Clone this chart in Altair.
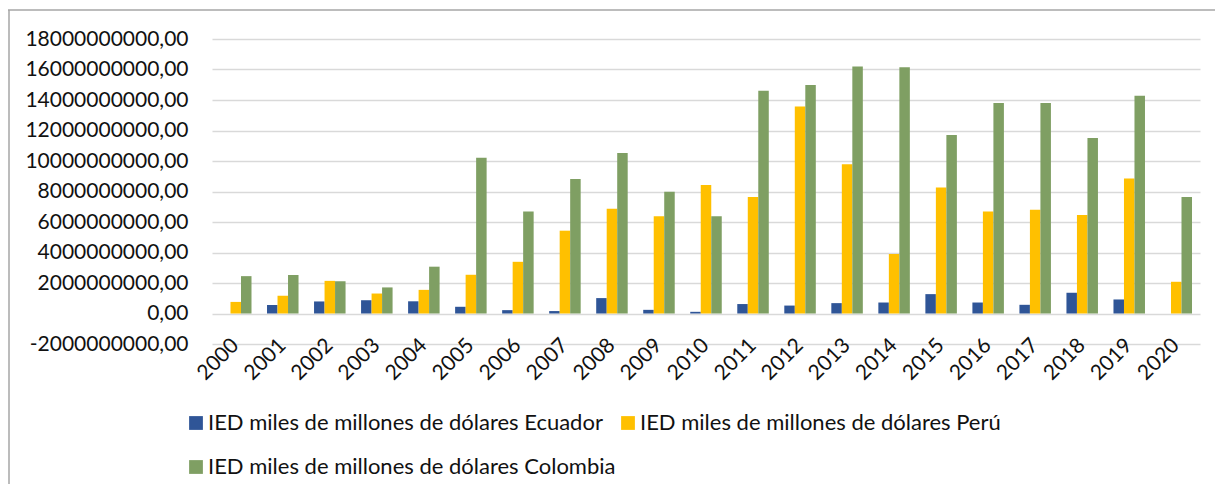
import altair as alt
import pandas as pd

years = [str(y) for y in range(2000, 2021)]
series = [
    "IED miles de millones de dólares Ecuador",
    "IED miles de millones de dólares Perú",
    "IED miles de millones de dólares Colombia",
]
colors = ["#2F5597", "#FFC000", "#7F9F63"]

ecuador = [0.00e9, 0.56e9, 0.79e9, 0.87e9, 0.80e9, 0.44e9, 0.22e9, 0.16e9, 1.01e9, 0.24e9, 0.11e9,
           0.62e9, 0.52e9, 0.68e9, 0.72e9, 1.27e9, 0.72e9, 0.57e9, 1.36e9, 0.92e9, 0.00e9]
peru = [0.76e9, 1.16e9, 2.14e9, 1.31e9, 1.55e9, 2.54e9, 3.39e9, 5.43e9, 6.87e9, 6.37e9, 8.42e9,
        7.64e9, 13.58e9, 9.78e9, 3.90e9, 8.27e9, 6.69e9, 6.80e9, 6.46e9, 8.86e9, 2.08e9]
colombia = [2.45e9, 2.53e9, 2.12e9, 1.71e9, 3.07e9, 10.22e9, 6.69e9, 8.82e9, 10.52e9, 7.99e9, 6.37e9,
            14.61e9, 14.99e9, 16.19e9, 16.14e9, 11.71e9, 13.80e9, 13.80e9, 11.51e9, 14.28e9, 7.64e9]

y_ticks = [-2e9 + 2e9 * i for i in range(11)]

rows = []
for name, vals in zip(series, [ecuador, peru, colombia]):
    for yr, v in zip(years, vals):
        rows.append({"year": yr, "serie": name, "valor": v})
df = pd.DataFrame(rows)

FONT = "Lato"
TXT = "#111111"

bars = alt.Chart(df).mark_bar().encode(
    x=alt.X(
        "year:N", sort=years,
        scale=alt.Scale(paddingInner=0.33, paddingOuter=0.17),
        axis=alt.Axis(title=None, labelAngle=-45, labelAlign="right", labelBaseline="middle",
                      domain=False, ticks=False, labelPadding=-2, labelFontSize=21,
                      labelFont=FONT, labelColor=TXT, grid=False),
    ),
    xOffset=alt.XOffset("serie:N", sort=series, scale=alt.Scale(paddingInner=0, paddingOuter=0)),
    y=alt.Y(
        "valor:Q",
        scale=alt.Scale(domain=[-2e9, 18e9], nice=False, zero=False),
        axis=alt.Axis(values=y_ticks, title=None, domain=False, ticks=False,
                      labelExpr="(datum.value < 0 ? '-' : '') + replace(format(abs(datum.value), '.2f'), '.', ',')",
                      gridColor="#d9d9d9", gridWidth=1.4, labelPadding=24, labelFontSize=21,
                      labelFont=FONT, labelColor=TXT),
    ),
    color=alt.Color(
        "serie:N", sort=series,
        scale=alt.Scale(domain=series, range=colors),
        legend=alt.Legend(title=None, orient="none", legendX=-27, legendY=373, direction="horizontal",
                          columns=2, gridAlign="none", symbolType="square", symbolSize=190,
                          symbolStrokeWidth=0, labelFontSize=22, labelFont=FONT, labelColor=TXT,
                          labelOffset=1, columnPadding=1, rowPadding=22, labelLimit=700),
    ),
)

frame_df = pd.DataFrame({"a": [0]})
top_line = alt.Chart(frame_df).mark_rule(color="#a6a6a6", strokeWidth=1.5).encode(
    x=alt.value(-204), x2=alt.value(1003), y=alt.value(-29)
)
left_line = alt.Chart(frame_df).mark_rule(color="#a6a6a6", strokeWidth=1.5).encode(
    x=alt.value(-203), y=alt.value(-29), y2=alt.value(445)
)

chart = alt.layer(top_line, left_line, bars).properties(
    width=988, height=305,
    padding={"left": 204, "top": 31, "right": 15, "bottom": 140},
    autosize=alt.AutoSizeParams(type="none"),
).configure_view(stroke=None)

chart.save("out.html", embed_options={"renderer": "svg", "actions": False})
